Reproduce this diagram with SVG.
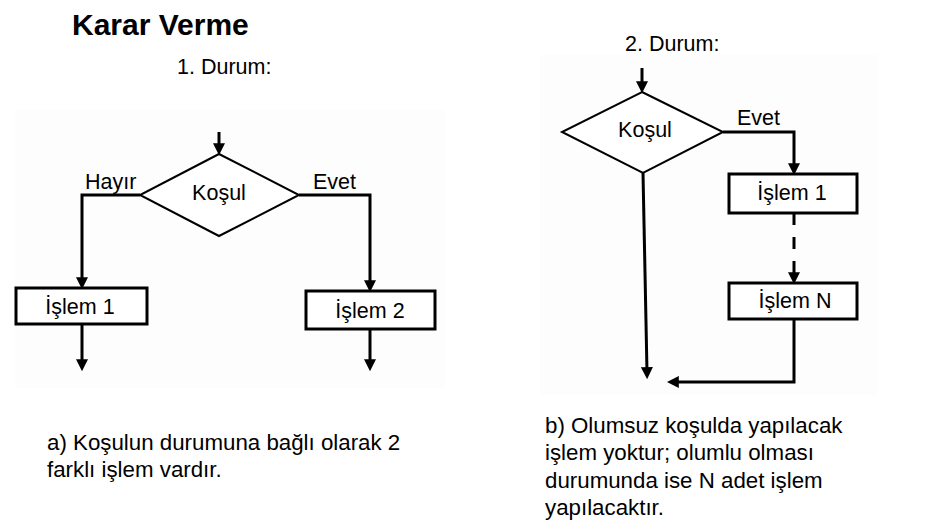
<svg xmlns="http://www.w3.org/2000/svg" width="942" height="528" viewBox="0 0 942 528">
<defs>
<style>
text{font-family:"Liberation Sans",Arial,sans-serif;fill:#000}
.t{font-size:21.5px}
.b{font-size:22.3px}
.box{fill:#fff;stroke:#000;stroke-width:3}
.dia{fill:#fff;stroke:#000;stroke-width:2}
.c{fill:none;stroke:#000;stroke-width:3;marker-end:url(#ah)}
.bg{fill:#fdfdfd}
</style>
<marker id="ah" markerUnits="userSpaceOnUse" markerWidth="12" markerHeight="12" viewBox="0 0 10 10" refX="4" refY="5" orient="auto">
<path d="M0,0 L10,5 L0,10 z" fill="#000"/>
</marker>
</defs>
<rect width="942" height="528" fill="#fff"/>
<rect class="bg" x="15" y="110" width="430" height="278"/>
<rect class="bg" x="540" y="55" width="338" height="340"/>
<text x="72" y="35" style="font-size:30px;font-weight:bold">Karar Verme</text>
<text class="t" x="177" y="74">1. Durum:</text>
<text class="t" x="625" y="51">2. Durum:</text>

<g id="connectors">
<path class="c" d="M219,132 V148"/>
<path class="c" d="M140,195 H82 V282"/>
<path class="c" d="M299,195 H370 V285"/>
<path class="c" d="M82,325 V364"/>
<path class="c" d="M370,330 V364"/>
<path class="c" d="M642,68 V86"/>
<path class="c" d="M723,132 H794 V168"/>
<path class="c" d="M794,213 V277" stroke-dasharray="12 12"/>
<path class="c" d="M643,173 L647,372"/>
<path class="c" d="M794,319 V382 H674"/>
<text class="t" x="85" y="189">Hayır</text>
<text class="t" x="313" y="189">Evet</text>
<text class="t" x="737" y="125">Evet</text>
</g>

<g id="kosul1">
<polygon class="dia" points="219,154 299,195 219,236 140,195"/>
<text class="t" x="219" y="200" text-anchor="middle">Koşul</text>
</g>
<g id="islem1a">
<rect class="box" x="16" y="288" width="131" height="36"/>
<text class="t" x="80" y="313.5" text-anchor="middle">İşlem 1</text>
</g>
<g id="islem2a">
<rect class="box" x="306" y="291" width="129" height="38"/>
<text class="t" x="370" y="318" text-anchor="middle">İşlem 2</text>
</g>

<g id="kosul2">
<polygon class="dia" points="642,92 723,132 643,173 562,132"/>
<text class="t" x="645" y="137" text-anchor="middle">Koşul</text>
</g>
<g id="islem1b">
<rect class="box" x="729" y="174" width="128" height="39"/>
<text class="t" x="792" y="200" text-anchor="middle">İşlem 1</text>
</g>
<g id="islemNb">
<rect class="box" x="729" y="283" width="128" height="36"/>
<text class="t" x="795" y="308" text-anchor="middle">İşlem N</text>
</g>

<text class="b" x="47" y="450">a) Koşulun durumuna bağlı olarak 2</text>
<text class="b" x="47" y="477">farklı işlem vardır.</text>
<text class="b" x="545" y="433">b) Olumsuz koşulda yapılacak</text>
<text class="b" x="545" y="460">işlem yoktur; olumlu olması</text>
<text class="b" x="545" y="488">durumunda ise N adet işlem</text>
<text class="b" x="545" y="515">yapılacaktır.</text>
</svg>
